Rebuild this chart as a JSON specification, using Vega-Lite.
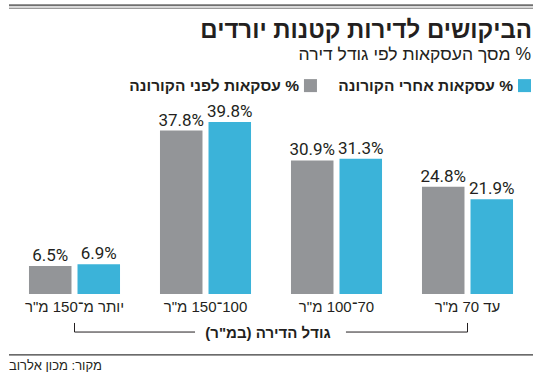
{
  "$schema": "https://vega.github.io/schema/vega-lite/v6.json",
  "width": 524,
  "height": 377,
  "autosize": {"type": "none"},
  "padding": {"left": 9, "right": 17, "top": 0, "bottom": 0},
  "background": "white",
  "config": {"view": {"stroke": null}},
  "data": {
    "values": [
      {"size": "יותר מ־150 מ\"ר", "period": "לפני הקורונה", "value": 6.5},
      {"size": "יותר מ־150 מ\"ר", "period": "אחרי הקורונה", "value": 6.9},
      {"size": "100־150 מ\"ר", "period": "לפני הקורונה", "value": 37.8},
      {"size": "100־150 מ\"ר", "period": "אחרי הקורונה", "value": 39.8},
      {"size": "70־100 מ\"ר", "period": "לפני הקורונה", "value": 30.9},
      {"size": "70־100 מ\"ר", "period": "אחרי הקורונה", "value": 31.3},
      {"size": "עד 70 מ\"ר", "period": "לפני הקורונה", "value": 24.8},
      {"size": "עד 70 מ\"ר", "period": "אחרי הקורונה", "value": 21.9}
    ]
  },
  "layer": [
    {
      "mark": {"type": "bar"},
      "encoding": {
        "x": {
          "field": "size", "type": "nominal",
          "sort": ["יותר מ־150 מ\"ר", "100־150 מ\"ר", "70־100 מ\"ר", "עד 70 מ\"ר"],
          "scale": {"type": "band", "domain": ["יותר מ־150 מ\"ר", "100־150 מ\"ר", "70־100 מ\"ר", "עד 70 מ\"ר"], "paddingInner": 0.305, "paddingOuter": 0.1525},
          "axis": null
        },
        "xOffset": {
          "field": "period", "type": "nominal",
          "sort": ["לפני הקורונה", "אחרי הקורונה"],
          "scale": {"domain": ["לפני הקורונה", "אחרי הקורונה"], "paddingInner": 0.124, "paddingOuter": 0}
        },
        "y": {
          "field": "value", "type": "quantitative", "stack": null,
          "scale": {"domain": [-19.2, 68], "nice": false, "zero": false},
          "axis": null
        },
        "color": {
          "field": "period", "type": "nominal",
          "scale": {"domain": ["לפני הקורונה", "אחרי הקורונה"], "range": ["#939598", "#3bb3d9"]},
          "legend": null
        }
      }
    },
    {
      "transform": [{"calculate": "format(datum.value, '.1f') + '%'", "as": "label"}],
      "mark": {"type": "text", "align": "center", "baseline": "alphabetic", "dy": -5, "font": "Roboto, sans-serif", "fontSize": 17, "color": "#231f20"},
      "encoding": {
        "x": {"field": "size", "type": "nominal"},
        "xOffset": {"field": "period", "type": "nominal"},
        "y": {"field": "value", "type": "quantitative"},
        "text": {"field": "label"}
      }
    },
    {
      "transform": [
        {"filter": "datum.period == 'לפני הקורונה'"},
        {"calculate": "'\u200f' + datum.size + '\u200f'", "as": "label"}
      ],
      "mark": {"type": "text", "align": "center", "baseline": "middle", "font": "Liberation Sans, DejaVu Sans, sans-serif", "fontSize": 15, "color": "#231f20"},
      "encoding": {
        "x": {"field": "size", "type": "nominal"},
        "y": {"datum": -3.1},
        "text": {"field": "label"}
      }
    },
    {
      "data": {"values": [{}]},
      "mark": {"type": "rule", "color": "#231f20", "strokeWidth": 1},
      "encoding": {
        "x": {"datum": "יותר מ־150 מ\"ר", "bandPosition": 0.5},
        "y": {"datum": -6.7},
        "y2": {"datum": -8.8}
      }
    },
    {
      "data": {"values": [{}]},
      "mark": {"type": "rule", "color": "#231f20", "strokeWidth": 1},
      "encoding": {
        "x": {"datum": "עד 70 מ\"ר", "bandPosition": 0.5},
        "y": {"datum": -6.7},
        "y2": {"datum": -8.8}
      }
    },
    {
      "data": {"values": [{}]},
      "mark": {"type": "rule", "color": "#231f20", "strokeWidth": 1},
      "encoding": {
        "x": {"datum": "יותר מ־150 מ\"ר", "bandPosition": 0.5},
        "x2": {"datum": "100־150 מ\"ר", "bandPosition": 0.385},
        "y": {"datum": -8.8}
      }
    },
    {
      "data": {"values": [{}]},
      "mark": {"type": "rule", "color": "#231f20", "strokeWidth": 1},
      "encoding": {
        "x": {"datum": "70־100 מ\"ר", "bandPosition": 0.604},
        "x2": {"datum": "עד 70 מ\"ר", "bandPosition": 0.5},
        "y": {"datum": -8.8}
      }
    },
    {
      "data": {"values": [{}]},
      "mark": {"type": "text", "text": "\u200fגודל הדירה (במ\"ר)\u200f", "align": "center", "baseline": "middle", "font": "Liberation Sans, DejaVu Sans, sans-serif", "fontSize": 15, "fontWeight": "bold", "color": "#231f20"},
      "encoding": {
        "x": {"datum": "70־100 מ\"ר", "bandPosition": -0.253},
        "y": {"datum": -9.0}
      }
    },
    {
      "data": {"values": [{}]},
      "mark": {"type": "rule", "color": "#3a3a3a", "strokeWidth": 1.3},
      "encoding": {"y": {"datum": -14.1}}
    },
    {
      "data": {"values": [{}]},
      "mark": {"type": "text", "text": "\u200fמקור: מכון אלרוב\u200f", "align": "left", "baseline": "middle", "font": "Liberation Sans, DejaVu Sans, sans-serif", "fontSize": 13, "color": "#231f20"},
      "encoding": {
        "x": {"datum": "יותר מ־150 מ\"ר", "bandPosition": -0.22},
        "y": {"datum": -16.6}
      }
    },
    {
      "data": {"values": [{}]},
      "mark": {"type": "rule", "color": "#707070", "strokeWidth": 2},
      "encoding": {"y": {"datum": 66.8}}
    },
    {
      "data": {"values": [{}]},
      "mark": {"type": "rule", "color": "#707070", "strokeWidth": 1},
      "encoding": {"y": {"datum": 66.1}}
    },
    {
      "data": {"values": [{}]},
      "mark": {"type": "text", "text": "\u200fהביקושים לדירות קטנות יורדים\u200f", "align": "right", "baseline": "alphabetic", "font": "Liberation Sans, DejaVu Sans, sans-serif", "fontSize": 24, "fontWeight": "bold", "color": "#231f20"},
      "encoding": {
        "x": {"datum": "עד 70 מ\"ר", "bandPosition": 1.209},
        "y": {"datum": 59.3}
      }
    },
    {
      "data": {"values": [{}]},
      "mark": {"type": "text", "text": "\u200f% מסך העסקאות לפי גודל דירה\u200f", "align": "right", "baseline": "alphabetic", "font": "Liberation Sans, DejaVu Sans, sans-serif", "fontSize": 17.5, "color": "#231f20"},
      "encoding": {
        "x": {"datum": "עד 70 מ\"ר", "bandPosition": 1.198},
        "y": {"datum": 54.1}
      }
    },
    {
      "data": {"values": [{"period": "אחרי הקורונה"}]},
      "mark": {"type": "point", "shape": "square", "filled": true, "size": 169, "opacity": 1},
      "encoding": {
        "x": {"datum": "עד 70 מ\"ר", "bandPosition": 1.126},
        "y": {"datum": 48.2},
        "color": {"field": "period", "type": "nominal", "legend": null}
      }
    },
    {
      "data": {"values": [{"period": "לפני הקורונה"}]},
      "mark": {"type": "point", "shape": "square", "filled": true, "size": 169, "opacity": 1},
      "encoding": {
        "x": {"datum": "70־100 מ\"ר", "bandPosition": 0.214},
        "y": {"datum": 48.2},
        "color": {"field": "period", "type": "nominal", "legend": null}
      }
    },
    {
      "data": {"values": [{}]},
      "mark": {"type": "text", "text": "\u200f% עסקאות אחרי הקורונה\u200f", "align": "right", "baseline": "middle", "font": "Liberation Sans, DejaVu Sans, sans-serif", "fontSize": 15.5, "fontWeight": "bold", "color": "#231f20"},
      "encoding": {
        "x": {"datum": "עד 70 מ\"ר", "bandPosition": 1.0},
        "y": {"datum": 48.2}
      }
    },
    {
      "data": {"values": [{}]},
      "mark": {"type": "text", "text": "\u200f% עסקאות לפני הקורונה\u200f", "align": "right", "baseline": "middle", "font": "Liberation Sans, DejaVu Sans, sans-serif", "fontSize": 15.5, "fontWeight": "bold", "color": "#231f20"},
      "encoding": {
        "x": {"datum": "70־100 מ\"ר", "bandPosition": 0.088},
        "y": {"datum": 48.2}
      }
    }
  ]
}
